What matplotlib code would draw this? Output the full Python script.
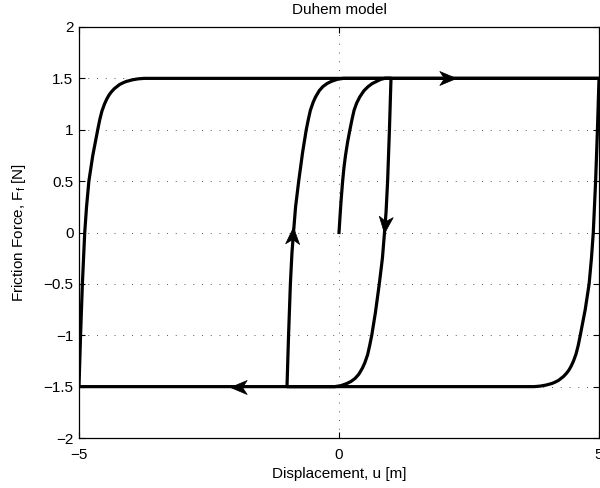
import numpy as np
import matplotlib
matplotlib.use("Agg")
import matplotlib.pyplot as plt
from matplotlib.path import Path
from matplotlib.markers import MarkerStyle
from matplotlib.transforms import Affine2D

plt.rcParams['font.family'] = ['Liberation Sans', 'DejaVu Sans']
plt.rcParams['mathtext.fontset'] = 'custom'
plt.rcParams['mathtext.rm'] = 'Liberation Sans'
plt.rcParams['mathtext.it'] = 'Liberation Sans:italic'

# first loading from rest: 0 -> +1
u_start = [0.00, 0.02, 0.04, 0.07, 0.095, 0.125, 0.165, 0.21, 0.25, 0.29, 0.34, 0.40, 0.48, 0.56, 0.64, 0.72, 0.80, 0.88, 1.00]
f_start = [0.00, 0.16, 0.31, 0.50, 0.63, 0.75, 0.88, 1.00, 1.10, 1.19, 1.26, 1.32, 1.38, 1.42, 1.45, 1.47, 1.49, 1.50, 1.50]

# unloading +1 -> -1
u_down_in = [1.00, 0.97, 0.935, 0.905, 0.875, 0.835, 0.775, 0.70, 0.63, 0.59, 0.55, 0.495, 0.45, 0.38, 0.31, 0.23, 0.15, 0.04, -0.08, -1.00]
f_down_in = [1.50, 1.00, 0.50, 0.20, 0.00, -0.25, -0.50, -0.78, -1.00, -1.10, -1.19, -1.27, -1.32, -1.38, -1.42, -1.45, -1.47, -1.49, -1.50, -1.50]

# loading -1 -> +5
u_up_in = [-1.00, -0.97, -0.935, -0.905, -0.875, -0.835, -0.775, -0.70, -0.63, -0.59, -0.55, -0.495, -0.45, -0.38, -0.31, -0.23, -0.15, -0.04, 0.08, 5.00]
f_up_in = [-1.50, -1.00, -0.50, -0.20, 0.00, 0.25, 0.50, 0.78, 1.00, 1.10, 1.19, 1.27, 1.32, 1.38, 1.42, 1.45, 1.47, 1.49, 1.50, 1.50]

# unloading +5 -> -5
u_down_out = [5.00, 4.97, 4.935, 4.89, 4.855, 4.81, 4.735, 4.64, 4.60, 4.56, 4.51, 4.465, 4.42, 4.375, 4.32, 4.22, 4.14, 4.09, 3.98, 3.87, 3.75, -5.00]
f_down_out = [1.50, 1.00, 0.50, 0.00, -0.25, -0.50, -0.75, -1.00, -1.10, -1.18, -1.25, -1.30, -1.34, -1.37, -1.40, -1.44, -1.46, -1.47, -1.485, -1.495, -1.50, -1.50]

# loading -5 -> +5
u_up_out = [-5.00, -4.97, -4.935, -4.89, -4.855, -4.81, -4.735, -4.64, -4.60, -4.56, -4.51, -4.465, -4.42, -4.375, -4.32, -4.22, -4.14, -4.09, -3.98, -3.87, -3.75, 5.00]
f_up_out = [-1.50, -1.00, -0.50, 0.00, 0.25, 0.50, 0.75, 1.00, 1.10, 1.18, 1.25, 1.30, 1.34, 1.37, 1.40, 1.44, 1.46, 1.47, 1.485, 1.495, 1.50, 1.50]

# direction arrows (tip position, direction)
arrow_u = [2.25, -2.10, 0.86, -0.88]
arrow_f = [1.50, -1.50, 0.00, 0.05]
arrow_dir = ['right', 'left', 'down', 'up']

x_ticks = [-5, 0, 5]
x_ticklabels = ['\u22125', '0', '5']
y_ticks = [-2, -1.5, -1, -0.5, 0, 0.5, 1, 1.5, 2]
y_ticklabels = ['\u22122', '\u22121.5', '\u22121', '\u22120.5', '0', '0.5', '1', '1.5', '2']

u_all = u_start + u_down_in[1:] + u_up_in[1:] + u_down_out[1:] + u_up_out[1:]
f_all = f_start + f_down_in[1:] + f_up_in[1:] + f_down_out[1:] + f_up_out[1:]

fig = plt.figure(figsize=(6.0, 4.88), dpi=100)
ax = fig.add_axes([79 / 600, 50 / 488, 520 / 600, 411 / 488])

ax.plot(u_all, f_all, color='black', lw=2.3, solid_joinstyle='round', zorder=3)

# arrowhead marker, tip at origin pointing +x
head = Path([(0, 0), (-1, 0.42), (-0.72, 0), (-1, -0.42), (0, 0)],
            [Path.MOVETO, Path.LINETO, Path.LINETO, Path.LINETO, Path.CLOSEPOLY])
angles = {'right': 0, 'left': 180, 'up': 87, 'down': -96}
for u, f, d in zip(arrow_u, arrow_f, arrow_dir):
    m = MarkerStyle(head, transform=Affine2D().rotate_deg(angles[d]))
    ax.plot([u], [f], marker=m, markersize=24, color='black', mec='black', mew=0.5, zorder=4)

ax.set_xlim(-5, 5)
ax.set_ylim(-2, 2)
ax.set_xticks(x_ticks)
ax.set_xticklabels(x_ticklabels)
ax.set_yticks(y_ticks)
ax.set_yticklabels(y_ticklabels)
ax.tick_params(direction='in', top=True, right=True, length=4, width=0.8, labelsize=11)
ax.tick_params(axis='x', pad=7)
ax.tick_params(axis='y', pad=4)
ax.grid(True, color='0.35', linestyle=(0, (1, 8)), lw=0.7)
for s in ax.spines.values():
    s.set_linewidth(0.9)

ax.set_title('Duhem model', fontsize=11, pad=9)
ax.set_xlabel('Displacement, u [m]', fontsize=11)
ax.set_ylabel('Friction Force, F$_\\mathrm{f}$ [N]', fontsize=11, labelpad=11)

plt.savefig('out.png', dpi=100)
